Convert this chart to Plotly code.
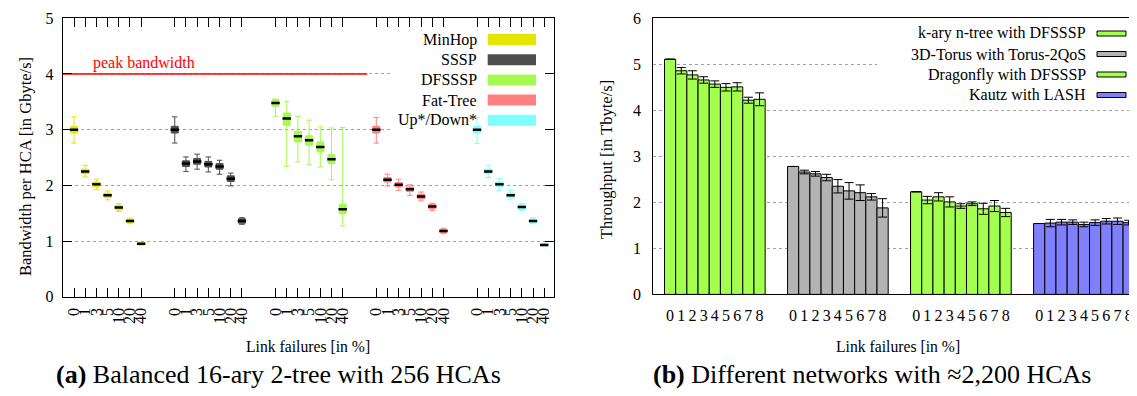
import plotly.graph_objects as go

# The page body has an 8px margin, so the figure is sized/offset accordingly.
OFF = 8
W, H = 1137 - OFF, 396 - OFF
FONT = "Liberation Serif"

# ---------------- data: left chart (a) ----------------
fail_labels_a = ["0", "1", "3", "5", "10", "20", "40"]
series_a = ["MinHop", "SSSP", "DFSSSP", "Fat-Tree", "Up*/Down*"]
colors_a = ["#e5e500", "#4d4d4d", "#a5f94f", "#ff8080", "#80ffff"]

minhop_med = [3.00, 2.25, 2.02, 1.82, 1.60, 1.36, 0.95]
minhop_lo = [2.76, 2.15, 1.92, 1.74, 1.53, 1.31, 0.93]
minhop_hi = [3.23, 2.36, 2.11, 1.90, 1.67, 1.41, 0.98]
minhop_q1 = [2.94, 2.21, 1.98, 1.78, 1.56, 1.33, 0.93]
minhop_q3 = [3.06, 2.29, 2.06, 1.86, 1.64, 1.39, 0.97]

sssp_med = [3.00, 2.39, 2.43, 2.38, 2.34, 2.12, 1.36]
sssp_lo = [2.76, 2.25, 2.29, 2.24, 2.20, 1.99, 1.30]
sssp_hi = [3.23, 2.51, 2.56, 2.51, 2.45, 2.22, 1.42]
sssp_q1 = [2.94, 2.34, 2.38, 2.33, 2.29, 2.07, 1.32]
sssp_q3 = [3.06, 2.44, 2.48, 2.43, 2.39, 2.17, 1.40]

dfsssp_med = [3.48, 3.20, 2.88, 2.81, 2.69, 2.47, 1.57]
dfsssp_lo = [3.24, 2.34, 2.42, 2.37, 2.33, 2.10, 1.27]
dfsssp_hi = [3.55, 3.51, 3.24, 3.17, 3.05, 3.03, 3.04]
dfsssp_q1 = [3.42, 3.08, 2.78, 2.72, 2.60, 2.39, 1.49]
dfsssp_q3 = [3.54, 3.30, 2.97, 2.89, 2.78, 2.55, 1.66]

fattree_med = [3.00, 2.10, 2.01, 1.93, 1.80, 1.62, 1.18]
fattree_lo = [2.76, 1.99, 1.91, 1.82, 1.72, 1.55, 1.13]
fattree_hi = [3.22, 2.20, 2.11, 2.01, 1.88, 1.68, 1.23]
fattree_q1 = [2.94, 2.06, 1.97, 1.89, 1.76, 1.58, 1.15]
fattree_q3 = [3.06, 2.14, 2.05, 1.97, 1.84, 1.66, 1.21]

updown_med = [3.00, 2.25, 2.02, 1.82, 1.61, 1.36, 0.93]
updown_lo = [2.75, 2.14, 1.91, 1.74, 1.55, 1.31, 0.91]
updown_hi = [3.22, 2.36, 2.12, 1.91, 1.68, 1.42, 0.95]
updown_q1 = [2.94, 2.21, 1.98, 1.78, 1.57, 1.33, 0.915]
updown_q3 = [3.06, 2.29, 2.06, 1.86, 1.65, 1.39, 0.945]

peak_bandwidth = 4.0

# ---------------- data: right chart (b) ----------------
fail_labels_b = ["0", "1", "2", "3", "4", "5", "6", "7", "8"]
series_b = ["k-ary n-tree with DFSSSP", "3D-Torus with Torus-2QoS",
            "Dragonfly with DFSSSP", "Kautz with LASH"]
colors_b = ["#a5ff4f", "#b3b3b3", "#a5ff4f", "#8080ff"]
kary_val = [5.11, 4.86, 4.77, 4.66, 4.57, 4.50, 4.51, 4.22, 4.24]
kary_err = [0.0, 0.07, 0.09, 0.07, 0.07, 0.08, 0.09, 0.065, 0.14]
torus_val = [2.78, 2.66, 2.62, 2.54, 2.35, 2.25, 2.21, 2.12, 1.88]
torus_err = [0.0, 0.04, 0.05, 0.07, 0.145, 0.18, 0.17, 0.07, 0.20]
dragonfly_val = [2.23, 2.05, 2.12, 2.01, 1.92, 1.97, 1.86, 1.92, 1.78]
dragonfly_err = [0.0, 0.08, 0.09, 0.11, 0.05, 0.04, 0.12, 0.12, 0.09]
kautz_val = [1.54, 1.55, 1.57, 1.57, 1.52, 1.56, 1.59, 1.59, 1.56]
kautz_err = [0.0, 0.08, 0.06, 0.05, 0.05, 0.06, 0.06, 0.07, 0.05]

# ---------------- helpers (screen pixel -> paper fraction) ----------------
def px(x):
    return (x - OFF) / W

def py(y):
    return 1 - (y - OFF) / H

fig = go.Figure()

# left chart
stats_a = [
    (minhop_med, minhop_lo, minhop_hi, minhop_q1, minhop_q3),
    (sssp_med, sssp_lo, sssp_hi, sssp_q1, sssp_q3),
    (dfsssp_med, dfsssp_lo, dfsssp_hi, dfsssp_q1, dfsssp_q3),
    (fattree_med, fattree_lo, fattree_hi, fattree_q1, fattree_q3),
    (updown_med, updown_lo, updown_hi, updown_q1, updown_q3),
]
n_a = len(fail_labels_a)
group_step_a = n_a + 2
all_pos_a = []
for g, (name, col, st) in enumerate(zip(series_a, colors_a, stats_a)):
    med, lo, hi, q1, q3 = st
    pos = [1 + g * group_step_a + i for i in range(n_a)]
    all_pos_a += pos
    fig.add_trace(go.Box(
        x=pos, q1=q1, median=med, q3=q3, lowerfence=lo, upperfence=hi,
        fillcolor=col, line=dict(color=col, width=1), width=0.62,
        whiskerwidth=0.8, boxpoints=False, showlegend=False, name=name,
        xaxis="x", yaxis="y"))
    fig.add_trace(go.Scatter(
        x=pos, y=med, mode="markers", showlegend=False,
        marker=dict(symbol="line-ew", size=6, line=dict(color="black", width=2.5)),
        xaxis="x", yaxis="y"))

peak_x_end = 27.2
fig.add_trace(go.Scatter(x=[0, peak_x_end], y=[peak_bandwidth, peak_bandwidth],
                         mode="lines", line=dict(color="#ff0000", width=1.3),
                         showlegend=False, xaxis="x", yaxis="y"))

# right chart
vals_b = [(kary_val, kary_err), (torus_val, torus_err),
          (dragonfly_val, dragonfly_err), (kautz_val, kautz_err)]
n_b = len(fail_labels_b)
group_step_b = n_b + 2
tick_pos_b, tick_txt_b = [], []
for g, (name, col, (v, e)) in enumerate(zip(series_b, colors_b, vals_b)):
    pos = [1.5 + g * group_step_b + i for i in range(n_b)]
    tick_pos_b += pos
    tick_txt_b += fail_labels_b
    fig.add_trace(go.Bar(
        x=pos, y=v, width=1, name=name, showlegend=False,
        marker=dict(color=col, line=dict(color="black", width=1)),
        error_y=dict(type="data", array=e, color="black", thickness=1, width=4.5),
        xaxis="x2", yaxis="y2"))

font = dict(family=FONT, size=16, color="black")

axis_common = dict(showline=True, linecolor="black", linewidth=1,
                   tickfont=font, zeroline=False, automargin=False)

fig.update_layout(
    template="none",
    width=W, height=H,
    margin=dict(l=0, r=0, t=0, b=0, autoexpand=False),
    paper_bgcolor="white", plot_bgcolor="white",
    font=font,
    showlegend=False,
    xaxis=dict(domain=[px(62.8), px(554.3)], range=[0, 43.9], anchor="y",
               tickmode="array", tickvals=all_pos_a, ticktext=fail_labels_a * len(series_a),
               tickangle=-90, ticks="inside", ticklen=9, tickcolor="black",
               mirror="ticks", showgrid=False, ticklabelstandoff=4, **axis_common),
    yaxis=dict(domain=[py(296.7), py(18.3)], range=[0, 5], anchor="x",
               tickmode="array", tickvals=[0, 1, 2, 3, 4, 5],
               ticks="inside", ticklen=9, tickcolor="black", mirror="ticks",
               showgrid=True, gridcolor="#a0a0a0", griddash="dot", gridwidth=1,
               ticklabelstandoff=5, **axis_common),
    xaxis2=dict(domain=[px(653.3), px(1136.5)], range=[0, 43.2], anchor="y2",
                tickmode="array", tickvals=tick_pos_b, ticktext=tick_txt_b,
                ticks="", mirror=True, showgrid=False, ticklabelstandoff=6,
                **axis_common),
    yaxis2=dict(domain=[py(294.4), py(18.3)], range=[0, 6], anchor="x2",
                tickmode="array", tickvals=[0, 1, 2, 3, 4, 5, 6], ticks="",
                mirror=True, showgrid=True, gridcolor="#a0a0a0", griddash="dot",
                gridwidth=1, ticklabelstandoff=8, **axis_common),
)

shapes = []
annotations = []

# legend backgrounds (hide gridlines)
shapes.append(dict(type="rect", xref="x", yref="y", x0=29.5, x1=43.9, y0=2.9, y1=4.9,
                   fillcolor="white", line=dict(width=0), layer="between"))
shapes.append(dict(type="rect", xref="x2", yref="y2", x0=20.0, x1=43.2, y0=4.15, y1=5.93,
                   fillcolor="white", line=dict(width=0), layer="between"))

# left legend
for k, (name, col) in enumerate(zip(series_a, colors_a)):
    yc = 39.5 + k * 20.2
    annotations.append(dict(x=px(478.5), y=py(yc), xref="paper", yref="paper",
                            text=name, showarrow=False, xanchor="right",
                            yanchor="middle", font=font))
    shapes.append(dict(type="rect", xref="paper", yref="paper",
                       x0=px(487.7), x1=px(536), y0=py(yc + 5.5), y1=py(yc - 5.5),
                       fillcolor=col, line=dict(width=0)))

# right legend
for k, (name, col) in enumerate(zip(series_b, colors_b)):
    yc = 33.5 + k * 20.5
    annotations.append(dict(x=px(1088), y=py(yc), xref="paper", yref="paper",
                            text=name, showarrow=False, xanchor="right",
                            yanchor="middle", font=font))
    shapes.append(dict(type="rect", xref="paper", yref="paper",
                       x0=px(1097), x1=px(1126), y0=py(yc + 2.5), y1=py(yc - 2.5),
                       fillcolor=col, line=dict(color="black", width=1)))

# peak bandwidth label
annotations.append(dict(x=px(91), y=py(63), xref="paper", yref="paper",
                        text="peak bandwidth", showarrow=False, xanchor="left",
                        yanchor="middle", font=dict(family=FONT, size=16, color="#ff0000")))

# axis titles
annotations.append(dict(x=px(25), y=py(167), xref="paper", yref="paper",
                        text="Bandwidth per HCA [in Gbyte/s]", textangle=-90,
                        showarrow=False, xanchor="center", yanchor="middle",
                        font=dict(family=FONT, size=16.5, color="black")))
annotations.append(dict(x=px(607), y=py(160), xref="paper", yref="paper",
                        text="Throughput [in Tbyte/s]", textangle=-90,
                        showarrow=False, xanchor="center", yanchor="middle",
                        font=dict(family=FONT, size=16.5, color="black")))
annotations.append(dict(x=px(308), y=py(346), xref="paper", yref="paper",
                        text="Link failures [in %]", showarrow=False,
                        xanchor="center", yanchor="middle",
                        font=dict(family=FONT, size=15.7, color="black")))
annotations.append(dict(x=px(898), y=py(346), xref="paper", yref="paper",
                        text="Link failures [in %]", showarrow=False,
                        xanchor="center", yanchor="middle",
                        font=dict(family=FONT, size=15.7, color="black")))

# captions
annotations.append(dict(x=px(278), y=py(374), xref="paper", yref="paper",
                        text="<b>(a)</b> Balanced 16-ary 2-tree with 256 HCAs",
                        showarrow=False, xanchor="center", yanchor="middle",
                        font=dict(family=FONT, size=26, color="black")))
annotations.append(dict(x=px(872), y=py(374), xref="paper", yref="paper",
                        text="<b>(b)</b> Different networks with \u22482,200 HCAs",
                        showarrow=False, xanchor="center", yanchor="middle",
                        font=dict(family=FONT, size=26, color="black")))

fig.update_layout(shapes=shapes, annotations=annotations)

fig.write_html("out.html")
